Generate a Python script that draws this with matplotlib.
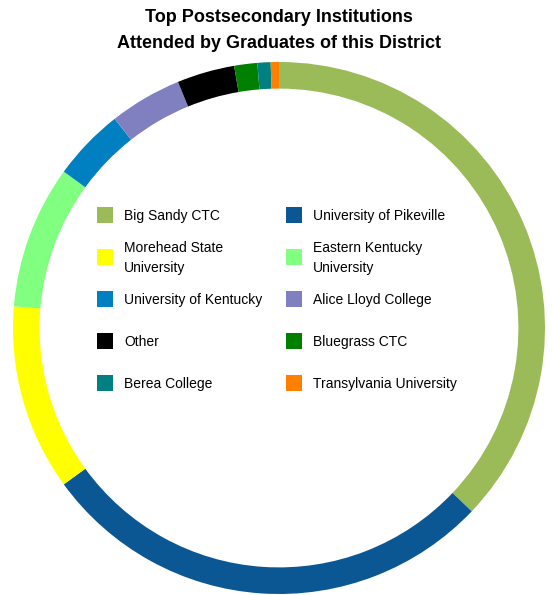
import matplotlib.pyplot as plt
from matplotlib.patches import Rectangle

plt.rcParams['font.family'] = ['Liberation Sans', 'DejaVu Sans']

schools = ['Big Sandy CTC', 'University of Pikeville', 'Morehead State\nUniversity',
           'Eastern Kentucky\nUniversity', 'University of Kentucky', 'Alice Lloyd College',
           'Other', 'Bluegrass CTC', 'Berea College', 'Transylvania University']
shares = [37.1, 27.9, 11.3, 8.7, 4.4, 4.4, 3.5, 1.4, 0.8, 0.5]
colors = ['#9BBB59', '#0B5794', '#FFFF00', '#80FF80', '#0080C0', '#8080C0',
          '#000000', '#008000', '#008080', '#FF8000']

W, H = 552, 595
fig = plt.figure(figsize=(W / 100, H / 100), dpi=100)

# donut, center ~ (279, 328) px from top-left, radius ~266 px
cx, cy, r = 279, 328, 266
ax = fig.add_axes([(cx - r) / W, (H - cy - r) / H, 2 * r / W, 2 * r / H])
ax.pie(shares, colors=colors, startangle=90, counterclock=False,
       wedgeprops=dict(width=0.1, linewidth=0))
ax.set_xlim(-1, 1)
ax.set_ylim(-1, 1)
ax.set_aspect('equal')
ax.axis('off')

fig.text(cx / W, 1 - 18 / H, 'Top Postsecondary Institutions',
         ha='center', va='center', fontsize=13, fontweight='bold')
fig.text(cx / W, 1 - 44 / H, 'Attended by Graduates of this District',
         ha='center', va='center', fontsize=13, fontweight='bold')

# legend, two columns, row-major
for i, (name, c) in enumerate(zip(schools, colors)):
    row, col = divmod(i, 2)
    px = 97 if col == 0 else 286
    py = 215 + row * 42
    fig.add_artist(Rectangle((px / W, 1 - (py + 8) / H), 16 / W, 16 / H,
                             transform=fig.transFigure, facecolor=c, edgecolor='none'))
    fig.text((px + 27) / W, 1 - (py + 1) / H, name, ha='left', va='center',
             fontsize=10, linespacing=1.6)

fig.savefig('out.png', dpi=100)
